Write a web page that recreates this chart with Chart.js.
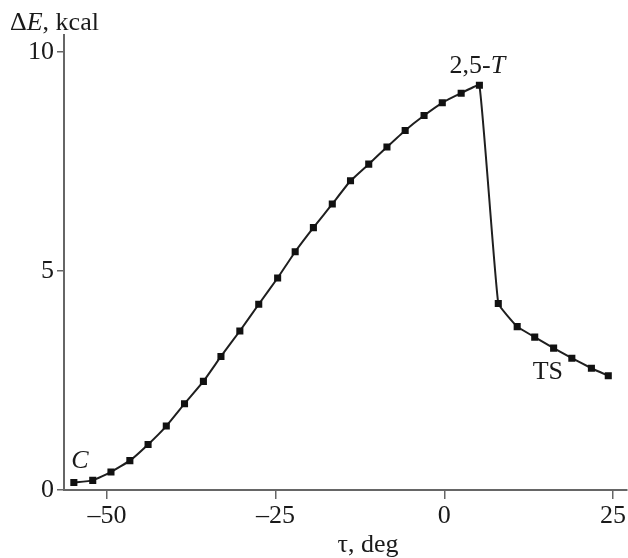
<!DOCTYPE html>
<html>
<head>
<meta charset="utf-8">
<script src="https://cdn.jsdelivr.net/npm/chart.js@4.4.1/dist/chart.umd.min.js"></script>
<style>
  html, body { margin: 0; padding: 0; background: #fff; }
  canvas { display: block; }
</style>
</head>
<body>
<canvas id="chart" width="628" height="558"></canvas>
<script>
// torsion angle tau (deg) and relative energy (kcal)
const tau = [
  -54.9, -52.1, -49.4, -46.6, -43.9, -41.2, -38.5, -35.7, -33.1, -30.3,
  -27.5, -24.7, -22.1, -19.4, -16.6, -13.9, -11.2, -8.5, -5.8, -3.0,
  -0.3, 2.5, 5.2, 8.0, 10.8, 13.4, 16.2, 18.9, 21.8, 24.3
];
const energy = [
  0.17, 0.22, 0.41, 0.67, 1.04, 1.46, 1.97, 2.48, 3.05, 3.63,
  4.24, 4.84, 5.44, 5.99, 6.53, 7.06, 7.44, 7.83, 8.21, 8.55,
  8.84, 9.06, 9.24, 4.26, 3.73, 3.49, 3.24, 3.01, 2.78, 2.61
];

const xTicks = [-50, -25, 0, 25];
const xTickLabels = ['–50', '–25', '0', '25'];
const yTicks = [0, 5, 10];
const yTickLabels = ['0', '5', '10'];

// point labels: which point they sit next to
const pointNotes = [
  { idx: 0,  runs: [['C', true]],                 dx: 6,   dy: -21 },
  { idx: 22, runs: [['2,5-', false], ['T', true]], dx: -2,  dy: -19 },
  { idx: 27, runs: [['TS', false]],               dx: -24, dy: 14 }
];

const SERIF = '"Liberation Serif", "DejaVu Serif", serif';
const FS = 26;

function drawRuns(ctx, runs, x, y, align) {
  const fonts = runs.map(r => (r[1] ? 'italic ' : '') + FS + 'px ' + SERIF);
  let total = 0;
  const widths = runs.map((r, i) => { ctx.font = fonts[i]; const w = ctx.measureText(r[0]).width; total += w; return w; });
  let cx = align === 'center' ? x - total / 2 : x;
  runs.forEach((r, i) => {
    ctx.font = fonts[i];
    ctx.fillText(r[0], cx, y);
    cx += widths[i];
  });
}

const textPlugin = {
  id: 'texts',
  afterDraw(chart) {
    const ctx = chart.ctx;
    const xs = chart.scales.x, ys = chart.scales.y;
    ctx.save();
    ctx.fillStyle = '#1a1a1a';
    ctx.textAlign = 'left';
    ctx.textBaseline = 'middle';
    pointNotes.forEach(n => {
      const px = xs.getPixelForValue(tau[n.idx]);
      const py = ys.getPixelForValue(energy[n.idx]);
      drawRuns(ctx, n.runs, px + n.dx, py + n.dy, 'center');
    });
    ctx.textBaseline = 'alphabetic';
    // axis titles
    drawRuns(ctx, [['Δ', false], ['E', true], [', kcal', false]], 10, 30, 'left');
    drawRuns(ctx, [['τ, deg', false]], 368, 552, 'center');
    ctx.restore();
  }
};

new Chart(document.getElementById('chart'), {
  type: 'line',
  data: {
    datasets: [{
      data: tau.map((t, i) => ({ x: t, y: energy[i] })),
      borderColor: '#1f1f1f',
      borderWidth: 2,
      tension: 0.1,
      pointStyle: 'rect',
      pointRadius: 5,
      pointBackgroundColor: '#111',
      pointBorderColor: '#111',
      pointBorderWidth: 0,
      fill: false
    }]
  },
  options: {
    responsive: false,
    animation: false,
    devicePixelRatio: 1,
    // no extra room for the end markers, the x axis runs to the right edge
    layout: { autoPadding: false, padding: { top: 34.5, right: 0, left: 0, bottom: 0 } },
    plugins: { legend: { display: false }, tooltip: { enabled: false } },
    scales: {
      x: {
        type: 'linear',
        min: -56.36,
        max: 27.07,
        afterBuildTicks: s => { s.ticks = xTicks.map(v => ({ value: v })); },
        afterFit: s => { s.height = 68; },
        ticks: {
          callback: v => xTickLabels[xTicks.indexOf(v)],
          font: { family: SERIF, size: FS },
          color: '#1a1a1a',
          padding: 2,
          maxRotation: 0
        },
        grid: { drawOnChartArea: false, tickLength: 9, color: '#666', lineWidth: 1.5 },
        border: { color: '#666', width: 2 }
      },
      y: {
        min: 0,
        max: 10.4,
        afterBuildTicks: s => { s.ticks = yTicks.map(v => ({ value: v })); },
        afterFit: s => { s.width = 64; },
        ticks: {
          callback: v => yTickLabels[yTicks.indexOf(v)],
          font: { family: SERIF, size: FS },
          color: '#1a1a1a',
          padding: 3
        },
        grid: { drawOnChartArea: false, tickLength: 7, color: '#666', lineWidth: 1.5 },
        border: { color: '#666', width: 2 }
      }
    }
  },
  plugins: [textPlugin]
});
</script>
</body>
</html>
